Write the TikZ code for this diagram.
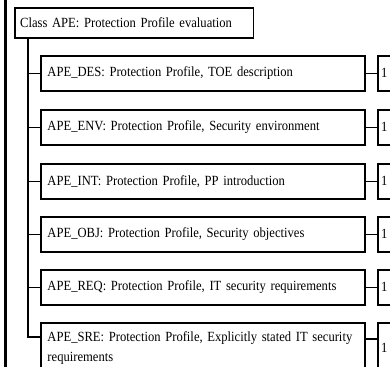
\documentclass[tikz,border=0pt]{standalone}
\usepackage{fontspec}
\setmainfont[FakeStretch=0.9]{Liberation Serif}
\hyphenpenalty=10000
\exhyphenpenalty=10000
\newcommand\apeboxfont{\fontsize{10.5}{15}\selectfont}
\begin{document}
\begin{tikzpicture}[x=0.75pt,y=-0.75pt,
  box/.style={draw=black,line width=1.2pt,anchor=north west,minimum height=26.25pt,
    inner xsep=5pt,inner ysep=0pt,text width=233pt,align=left,
    font=\apeboxfont},
  numbox/.style={draw=black,line width=1.2pt,anchor=north west,minimum height=26.25pt,
    inner xsep=2.5pt,inner ysep=0pt,text width=20pt,align=left,
    font=\apeboxfont},
  link/.style={draw=black,line width=0.8pt}]
\useasboundingbox (0,0) rectangle (390,367);
\clip (0,0) rectangle (390,367);
\fill[white] (0,0) rectangle (390,367);
\draw[line width=1.6pt] (5.5,-5) -- (5.5,372);
\node[box,text width=171pt,minimum height=22.5pt,inner xsep=4pt] (title) at (14,7) {Class APE: Protection Profile evaluation};
\node[box] (des) at (40,55) {APE\_DES: Protection Profile, TOE description};
\node[box] (env) at (40,109) {APE\_ENV: Protection Profile, Security environment};
\node[box] (int) at (40,163) {APE\_INT: Protection Profile, PP introduction};
\node[box] (obj) at (40,216) {APE\_OBJ: Protection Profile, Security objectives};
\node[box] (req) at (40,269) {APE\_REQ: Protection Profile, IT security requirements};
\node[box,minimum height=37.5pt] (sre) at (40,322) {APE\_SRE: Protection Profile, Explicitly stated IT security\\requirements};
\node[numbox] (des1) at (377,55) {1};
\node[numbox] (env1) at (377,109) {1};
\node[numbox] (int1) at (377,163) {1};
\node[numbox] (obj1) at (377,216) {1};
\node[numbox] (req1) at (377,269) {1};
\node[numbox,minimum height=37.5pt] (sre1) at (377,322) {1};
\coordinate (tk) at (28,0);
\coordinate (sreL) at (40,337);
\coordinate (sreR) at (365,339);
\coordinate (sre1L) at (377,339);
\draw[link] (tk |- title.south) -- (tk |- sreL) -- (sreL);
\foreach \n in {des,env,int,obj,req}{
  \draw[link] (tk |- \n.west) -- (\n.west);
  \draw[link] (\n.east) -- (\n1.west);
}
\draw[link] (sreR) -- (sre1L);
\end{tikzpicture}
\end{document}
